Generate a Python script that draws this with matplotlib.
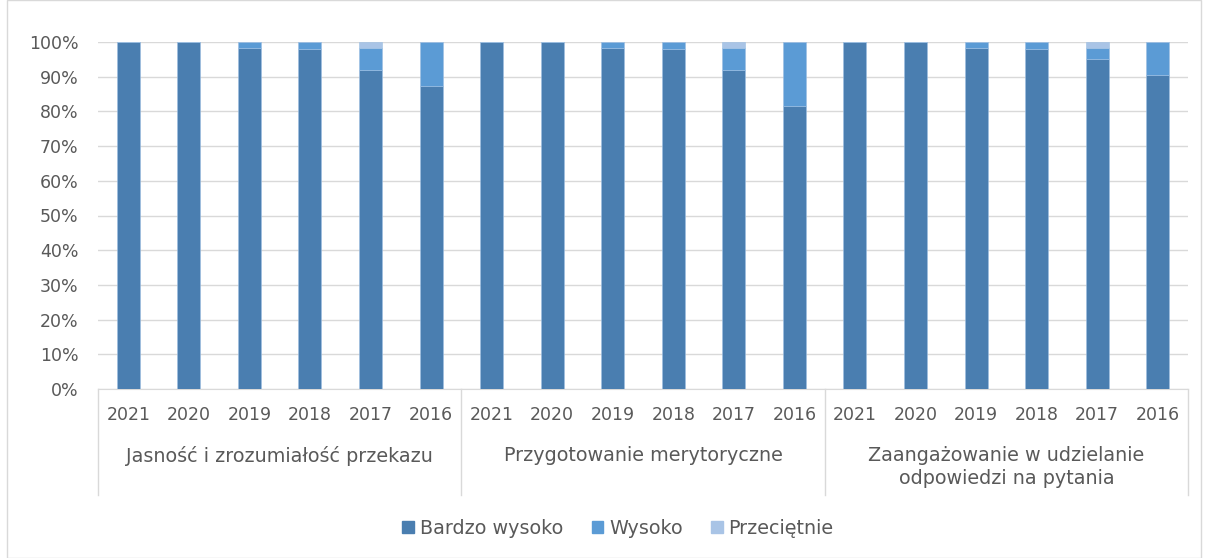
import matplotlib
matplotlib.use("Agg")
import matplotlib.pyplot as plt
import numpy as np
from matplotlib.patches import Rectangle
from matplotlib.lines import Line2D

groups = ["Jasność i zrozumiałość przekazu", "Przygotowanie merytoryczne",
          "Zaangażowanie w udzielanie\nodpowiedzi na pytania"]
years = ["2021", "2020", "2019", "2018", "2017", "2016"]
series_names = ["Bardzo wysoko", "Wysoko", "Przeciętnie"]
bardzo_wysoko = [100, 100, 98.4, 97.9, 91.8, 87.4,
                 100, 100, 98.4, 97.9, 91.8, 81.5,
                 100, 100, 98.4, 97.9, 95.1, 90.4]
wysoko = [0, 0, 1.6, 2.1, 6.6, 12.6,
          0, 0, 1.6, 2.1, 6.6, 18.5,
          0, 0, 1.6, 2.1, 3.3, 9.6]
przecietnie = [0, 0, 0, 0, 1.6, 0,
               0, 0, 0, 0, 1.6, 0,
               0, 0, 0, 0, 1.6, 0]
colors = ["#4A7EB0", "#5B9BD5", "#A9C4E6"]

plt.rcParams['font.family'] = ['DejaVu Sans']
txt = "#595959"
fs = 12.5
fs2 = 13.8

fig = plt.figure(figsize=(12.08, 5.58), dpi=100)
fig.patches.append(Rectangle((7/1208, 0), 1 - 14/1208, 1, transform=fig.transFigure,
                             fill=False, edgecolor="#D9D9D9", lw=1))
ax = fig.add_axes([98/1208, 1 - 389/558, 1090/1208, 347/558])

n = len(bardzo_wysoko)
x = np.arange(n)
bottom = np.zeros(n)
for vals, c, name in zip([bardzo_wysoko, wysoko, przecietnie], colors, series_names):
    v = np.array(vals, dtype=float)
    ax.bar(x, v, 0.38, bottom=bottom, color=c, edgecolor="#9DBFE3", linewidth=0.4,
           label=name, zorder=3)
    bottom += v

ax.set_xlim(-0.5, n - 0.5)
ax.set_ylim(0, 100)
ax.set_yticks(np.arange(0, 101, 10))
ax.set_yticklabels([f"{v}%" for v in range(0, 101, 10)], fontsize=fs, color=txt)
ax.yaxis.grid(True, color="#D9D9D9", lw=1, zorder=0)
ax.tick_params(axis="y", length=0, pad=14)
ax.tick_params(axis="x", length=0)
for s in ["top", "right", "left"]:
    ax.spines[s].set_visible(False)
ax.spines["bottom"].set_color("#D9D9D9")
ax.set_xticks(x)
ax.set_xticklabels(years * len(groups), fontsize=fs, color=txt)
ax.tick_params(axis="x", pad=12)

trans = ax.get_xaxis_transform()
for g in range(len(groups) + 1):
    xp = g * len(years) - 0.5
    ax.add_line(Line2D([xp, xp], [0, -106/347], transform=trans, color="#D9D9D9",
                       lw=1, clip_on=False))
for g, name in enumerate(groups):
    xc = g * len(years) + (len(years) - 1) / 2
    ax.text(xc, -57/347, name, transform=trans, ha="center", va="top",
            fontsize=fs2, color=txt, linespacing=1.3)

handles = [Rectangle((0, 0), 1, 1, color=c) for c in colors]
fig.legend(handles, series_names, loc="center", bbox_to_anchor=(618/1208, 1 - 528/558),
           ncol=3, frameon=False, fontsize=fs2, labelcolor=txt, handlelength=0.6,
           handleheight=0.6, handletextpad=0.3, columnspacing=1.5)

fig.savefig("out.png", dpi=100)
